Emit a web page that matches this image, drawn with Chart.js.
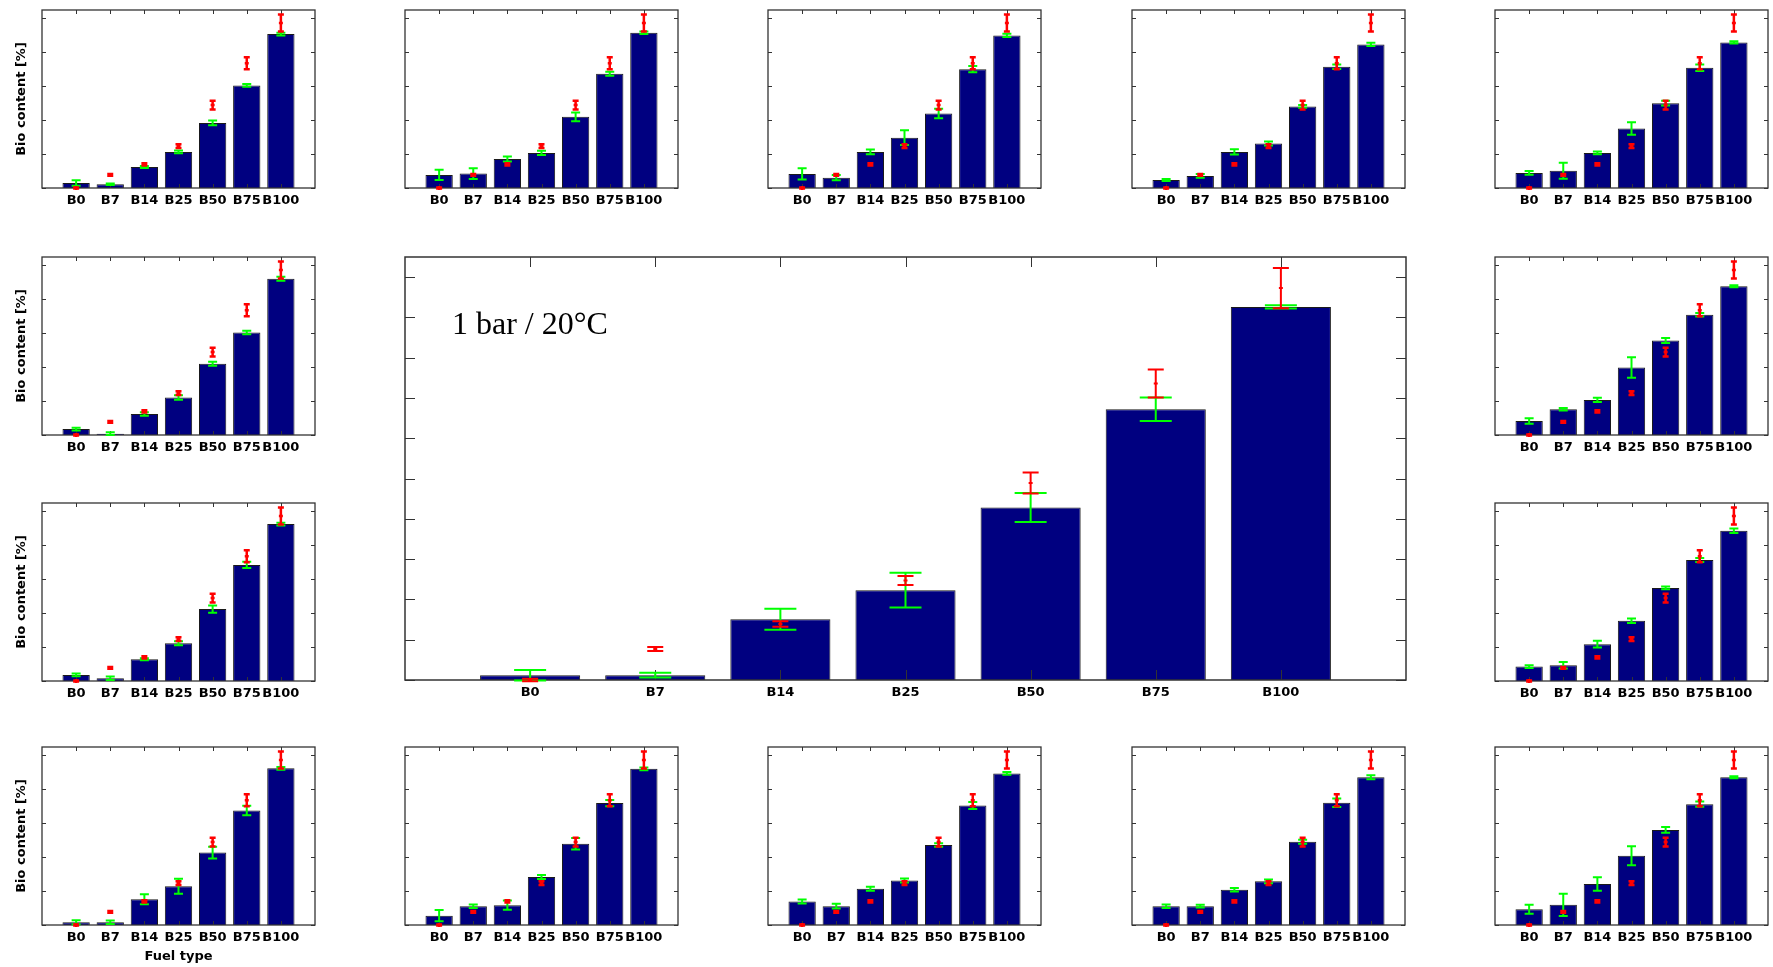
<!DOCTYPE html>
<html>
<head>
<meta charset="utf-8">
<title>Bio content by fuel type</title>
<script src="https://cdn.jsdelivr.net/npm/chart.js@4.4.1/dist/chart.umd.min.js"></script>
<style>
  html, body { margin: 0; padding: 0; background: #fff; }
  #board { position: relative; width: 1773px; height: 967px; overflow: hidden; }
  #board canvas { position: absolute; }
</style>
</head>
<body>
<div id="board"></div>
<script>
const categories = ['B0', 'B7', 'B14', 'B25', 'B50', 'B75', 'B100'];
const smallYTicks = [0, 20, 40, 60, 80, 100];
const bigYTicks = [0, 10, 20, 30, 40, 50, 60, 70, 80, 90, 100];

// red reference points, identical in every panel
const refMean = [0, 7.7, 13.9, 24.7, 48.9, 73.6, 97.3];
const refSd = [0.3, 0.5, 0.7, 1.1, 2.6, 3.5, 5.0];

// big centre panel
const bigBars = [1.2, 1.2, 15.1, 22.3, 42.8, 67.2, 92.6];
const bigSd = [1.3, 0.6, 2.6, 4.3, 3.6, 2.9, 0.4];

// small panels: bar height + green spread
const r1c1Bars = [3.0, 2.2, 12.4, 21.3, 38.4, 60.5, 90.8];
const r1c1Sd = [1.6, 0.5, 0.6, 0.8, 1.4, 0.8, 0.8];
const r1c2Bars = [7.7, 8.5, 17.1, 20.7, 42.0, 67.4, 91.6];
const r1c2Sd = [3.0, 3.2, 1.5, 1.3, 2.6, 1.2, 0.7];
const r1c3Bars = [8.3, 6.1, 21.3, 29.7, 43.9, 70.1, 90.0];
const r1c3Sd = [3.3, 1.5, 1.4, 4.4, 2.8, 1.8, 1.0];
const r1c4Bars = [4.7, 7.1, 21.3, 26.2, 48.1, 71.5, 84.7];
const r1c4Sd = [0.6, 1.1, 1.5, 1.2, 0.8, 1.3, 1.0];
const r1c5Bars = [8.9, 10.2, 20.7, 35.1, 50.0, 70.9, 85.9];
const r1c5Sd = [1.1, 4.7, 0.8, 3.7, 1.4, 1.9, 0.6];
const r2c1Bars = [3.5, 0.8, 12.4, 22.1, 42.0, 60.5, 92.2];
const r2c1Sd = [0.8, 0.8, 1.0, 1.3, 1.2, 1.0, 1.2];
const r2c5Bars = [8.3, 15.2, 20.7, 39.8, 55.7, 70.9, 87.7];
const r2c5Sd = [1.6, 0.8, 1.2, 6.1, 1.5, 1.0, 0.6];
const r3c1Bars = [3.6, 1.6, 12.8, 22.3, 42.4, 68.5, 92.6];
const r3c1Sd = [0.8, 1.0, 0.6, 1.2, 2.2, 1.8, 0.8];
const r3c5Bars = [8.5, 9.3, 21.7, 35.5, 54.9, 71.4, 88.6];
const r3c5Sd = [0.8, 1.9, 2.0, 1.3, 0.8, 1.2, 1.3];
const r4c1Bars = [1.6, 1.6, 15.2, 22.9, 42.7, 67.6, 92.4];
const r4c1Sd = [1.2, 1.0, 3.0, 4.4, 3.4, 2.8, 0.8];
const r4c2Bars = [5.5, 11.1, 11.7, 28.3, 47.9, 71.9, 92.1];
const r4c2Sd = [3.3, 1.0, 2.7, 1.2, 3.4, 1.9, 0.8];
const r4c3Bars = [13.9, 11.1, 21.4, 26.3, 47.2, 70.5, 89.4];
const r4c3Sd = [1.2, 1.4, 1.2, 1.2, 1.0, 2.0, 0.8];
const r4c4Bars = [11.1, 11.1, 20.8, 25.8, 49.1, 72.1, 87.2];
const r4c4Sd = [1.0, 0.8, 1.0, 1.1, 1.2, 2.5, 1.2];
const r4c5Bars = [9.3, 11.9, 24.2, 40.8, 56.1, 71.3, 87.2];
const r4c5Sd = [2.6, 6.6, 4.0, 5.6, 1.7, 1.5, 0.6];

const NAVY = '#000080';
const EDGE = '#1a1a1a';
const GREEN = '#00ff00';
const RED = '#ff0000';
const FRAME = '#333333';
const SANS = '"DejaVu Sans", Verdana, sans-serif';

// grid geometry (plot boxes)
const COL_X = [42, 405, 768, 1132, 1495];
const ROW_Y = [10, 257, 503, 747];
const PLOT_W = 275, PLOT_H = 178;
const LEFT = 40, PAD = 3;

function errorBars(ctx, xs, ys, means, sds, color, cap, lw, mark) {
  ctx.strokeStyle = color;
  ctx.lineWidth = lw;
  ctx.beginPath();
  means.forEach((m, i) => {
    const px = xs.getPixelForValue(i + 1);
    const top = ys.getPixelForValue(m + sds[i]);
    const bot = ys.getPixelForValue(m - sds[i]);
    ctx.moveTo(px, top); ctx.lineTo(px, bot);
    ctx.moveTo(px - cap / 2, top); ctx.lineTo(px + cap / 2, top);
    ctx.moveTo(px - cap / 2, bot); ctx.lineTo(px + cap / 2, bot);
    if (mark) {
      const c = ys.getPixelForValue(m);
      ctx.moveTo(px - mark, c); ctx.lineTo(px + mark, c);
      ctx.moveTo(px, c - mark); ctx.lineTo(px, c + mark);
    }
  });
  ctx.stroke();
}

// box, inward ticks, error bars and in-plot label
const panelPlugin = {
  id: 'panel',
  afterDatasetsDraw(chart, args, o) {
    const { ctx, chartArea: a } = chart;
    const xs = chart.scales.x, ys = chart.scales.y;
    ctx.save();
    ctx.strokeStyle = FRAME;
    ctx.lineWidth = 1;
    ctx.beginPath();
    o.yTicks.forEach(v => {
      const py = Math.round(ys.getPixelForValue(v)) + 0.5;
      ctx.moveTo(a.left, py); ctx.lineTo(a.left + o.tick, py);
      ctx.moveTo(a.right, py); ctx.lineTo(a.right - o.tick, py);
    });
    categories.forEach((_, i) => {
      const px = Math.round(xs.getPixelForValue(i + 1)) + 0.5;
      ctx.moveTo(px, a.top); ctx.lineTo(px, a.top + o.tick);
      ctx.moveTo(px, a.bottom); ctx.lineTo(px, a.bottom - o.tick);
    });
    ctx.stroke();
    ctx.lineWidth = o.frameW;
    ctx.strokeRect(a.left, a.top, a.right - a.left, a.bottom - a.top);

    errorBars(ctx, xs, ys, o.bars, o.sd, GREEN, o.greenCap, o.lw, 0);
    errorBars(ctx, xs, ys, refMean, refSd, RED, o.redCap, o.redLw, o.mark);

    if (o.label) {
      ctx.fillStyle = '#000';
      ctx.font = '32px "Liberation Serif", "Times New Roman", serif';
      ctx.textBaseline = 'alphabetic';
      ctx.fillText(o.label, a.left + 47, a.top + 77);
    }
    ctx.restore();
  }
};

function drawPanel(p) {
  const board = document.getElementById('board');
  const canvas = document.createElement('canvas');
  const axisH = p.xTitle ? 44 : 30;
  canvas.width = LEFT + p.w + PAD;
  canvas.height = PAD + p.h + axisH;
  canvas.style.left = (p.x - LEFT) + 'px';
  canvas.style.top = (p.y - PAD) + 'px';
  board.appendChild(canvas);

  const big = !!p.big;
  new Chart(canvas, {
    type: 'bar',
    data: {
      labels: ['', ...categories, ''],
      datasets: [{
        data: [null, ...p.bars, null],
        backgroundColor: NAVY,
        borderColor: EDGE,
        borderWidth: 1,
        barPercentage: 0.8,
        categoryPercentage: 1,
      }],
    },
    options: {
      responsive: false,
      animation: false,
      devicePixelRatio: 1,
      events: [],
      layout: { padding: { top: PAD, right: PAD, left: 0, bottom: 0 } },
      plugins: {
        legend: { display: false },
        tooltip: { enabled: false },
        panel: {
          bars: p.bars, sd: p.sd,
          yTicks: big ? bigYTicks : smallYTicks,
          tick: big ? 10 : 4,
          frameW: big ? 1.5 : 1.3,
          greenCap: big ? 32 : 9,
          redCap: big ? 16 : 6,
          lw: 2,
          redLw: big ? 2 : 2.5,
          mark: big ? 2 : 2,
          label: p.label,
        },
      },
      scales: {
        x: {
          offset: false,
          grid: { display: false, drawTicks: false },
          border: { display: false },
          ticks: {
            autoSkip: false, maxRotation: 0, padding: 5, color: '#000',
            font: { family: SANS, size: 13, weight: 'bold' },
          },
          title: {
            display: !!p.xTitle, text: p.xTitle || '', color: '#000',
            font: { family: SANS, size: 13, weight: 'bold' },
            padding: { top: 0, bottom: 5 },
          },
          afterFit(s) { s.height = axisH; },
        },
        y: {
          min: 0, max: 105,
          grid: { display: false, drawTicks: false },
          border: { display: false },
          ticks: { display: false },
          title: {
            display: !!p.yTitle, text: p.yTitle || '', color: '#000',
            font: { family: SANS, size: 13, weight: 'bold' },
            padding: { top: 12, bottom: 0 },
          },
          afterFit(s) { s.width = LEFT; },
        },
      },
    },
    plugins: [panelPlugin],
  });
}

const Y_TITLE = 'Bio content [%]';
const cell = (row, col, bars, sd, extra) =>
  Object.assign({ x: COL_X[col], y: ROW_Y[row], w: PLOT_W, h: PLOT_H, bars, sd,
    yTitle: col === 0 ? Y_TITLE : '' }, extra || {});

const panels = [
  cell(0, 0, r1c1Bars, r1c1Sd),
  cell(0, 1, r1c2Bars, r1c2Sd),
  cell(0, 2, r1c3Bars, r1c3Sd),
  cell(0, 3, r1c4Bars, r1c4Sd),
  cell(0, 4, r1c5Bars, r1c5Sd),
  cell(1, 0, r2c1Bars, r2c1Sd),
  cell(1, 4, r2c5Bars, r2c5Sd),
  cell(2, 0, r3c1Bars, r3c1Sd),
  cell(2, 4, r3c5Bars, r3c5Sd),
  cell(3, 0, r4c1Bars, r4c1Sd, { xTitle: 'Fuel type' }),
  cell(3, 1, r4c2Bars, r4c2Sd),
  cell(3, 2, r4c3Bars, r4c3Sd),
  cell(3, 3, r4c4Bars, r4c4Sd),
  cell(3, 4, r4c5Bars, r4c5Sd),
  { x: COL_X[1], y: ROW_Y[1], w: 1003, h: 423, big: true,
    bars: bigBars, sd: bigSd, label: '1 bar / 20°C' },
];

panels.forEach(drawPanel);
</script>
</body>
</html>
